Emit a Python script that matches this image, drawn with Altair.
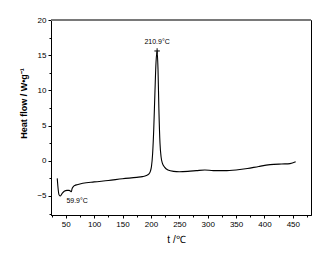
import altair as alt
import pandas as pd

temps = [35, 36, 38, 40, 44, 48, 52, 56, 58, 59.9, 61, 63, 66, 70, 80, 100, 125, 150, 175, 185,
         192, 196, 199, 201, 203, 205, 207, 209, 210.9, 212.5, 214, 216, 218, 220, 224, 230, 240,
         250, 265, 280, 295, 310, 330, 350, 370, 390, 410, 430, 445, 455]
heat = [-2.5, -3.5, -4.8, -5.0, -4.6, -4.3, -4.2, -4.2, -4.3, -4.4, -4.0, -3.7, -3.5, -3.4, -3.2,
        -3.0, -2.8, -2.55, -2.35, -2.25, -2.1, -1.9, -1.5, -0.8, 1.0, 4.5, 9.5, 14.0, 15.6, 13.0,
        7.5, 2.5, 0.5, -0.3, -0.9, -1.3, -1.5, -1.55, -1.5, -1.4, -1.3, -1.4, -1.4, -1.3, -1.1,
        -0.8, -0.55, -0.45, -0.4, -0.15]

x_major = [50, 100, 150, 200, 250, 300, 350, 400, 450]
x_minor = [25, 75, 125, 175, 225, 275, 325, 375, 425, 475]
y_major = [-5, 0, 5, 10, 15, 20]
y_minor = [-7.5, -2.5, 2.5, 7.5, 12.5, 17.5]

ann_x = [210.9, 70]
ann_y = [16.9, -5.7]
ann_text = ["210.9°C", "59.9°C"]
peak_x = [210.9]
peak_y = [15.6]
y_top = 20

df = pd.DataFrame({"t": temps, "h": heat})
ann = pd.DataFrame({"t": ann_x, "h": ann_y, "label": ann_text})
peak = pd.DataFrame({"t": peak_x, "h": peak_y})

xs = alt.Scale(domain=[24, 482], nice=False, zero=False)
ys = alt.Scale(domain=[-7.7, 20], nice=False, zero=False)

x_axis = alt.Axis(values=x_major, tickSize=3, labelFontSize=8, labelPadding=2,
                  title="t /℃", titleFontSize=10, titleFontWeight="normal",
                  titleX=125, titleY=24, titleBaseline="middle", grid=False, orient="bottom",
                  domainColor="black", tickColor="black", labelColor="black", titleColor="black",
                  labelFont="Liberation Sans", titleFont="Liberation Sans")
y_axis = alt.Axis(values=y_major, tickSize=3, labelFontSize=8, labelPadding=2,
                  title="Heat flow / W•g⁻¹", titleFontSize=9, titleFontWeight="bold",
                  titleX=-28, titleY=83, titleBaseline="middle", titleAngle=270, grid=False,
                  orient="left",
                  domainColor="black", tickColor="black", labelColor="black", titleColor="black",
                  labelFont="Liberation Sans", titleFont="Liberation Sans")

line = alt.Chart(df).mark_line(color="black", strokeWidth=1.1, interpolate="monotone").encode(
    x=alt.X("t:Q", scale=xs, axis=x_axis),
    y=alt.Y("h:Q", scale=ys, axis=y_axis),
)

minor = alt.Chart(df).mark_line(opacity=0).encode(
    x=alt.X("t:Q", scale=xs, axis=alt.Axis(values=x_minor, tickSize=2, labels=False, domain=False,
                                           title=None, grid=False, orient="bottom", tickColor="black")),
    y=alt.Y("h:Q", scale=ys, axis=alt.Axis(values=y_minor, tickSize=2, labels=False, domain=False,
                                           title=None, grid=False, orient="left", tickColor="black")),
)

top_rule = alt.Chart(df).mark_rule(color="#7a7a7a", strokeWidth=1.6).encode(
    y=alt.datum(y_top, scale=ys, axis=None),
)

texts = alt.Chart(ann).mark_text(fontSize=7, font="Liberation Sans", color="black",
                                 baseline="middle", align="center").encode(
    x=alt.X("t:Q", scale=xs, axis=None), y=alt.Y("h:Q", scale=ys, axis=None), text="label:N")

marker = alt.Chart(peak).mark_point(shape="M -1 0 L 1 0 M 0 -1 L 0 1", size=30, filled=False,
                                    color="black", strokeWidth=1, opacity=1).encode(
    x=alt.X("t:Q", scale=xs, axis=None), y=alt.Y("h:Q", scale=ys, axis=None))

chart = alt.layer(line, minor, top_rule, texts, marker).resolve_axis(x="independent", y="independent").properties(
    width=260, height=195,
    autosize=alt.AutoSizeParams(type="none"),
    padding={"left": 51, "top": 20, "right": 23, "bottom": 39},
    background="white",
).configure_view(stroke="black", strokeWidth=1)

chart.save("out.html", embed_options={"renderer": "svg", "actions": False})
